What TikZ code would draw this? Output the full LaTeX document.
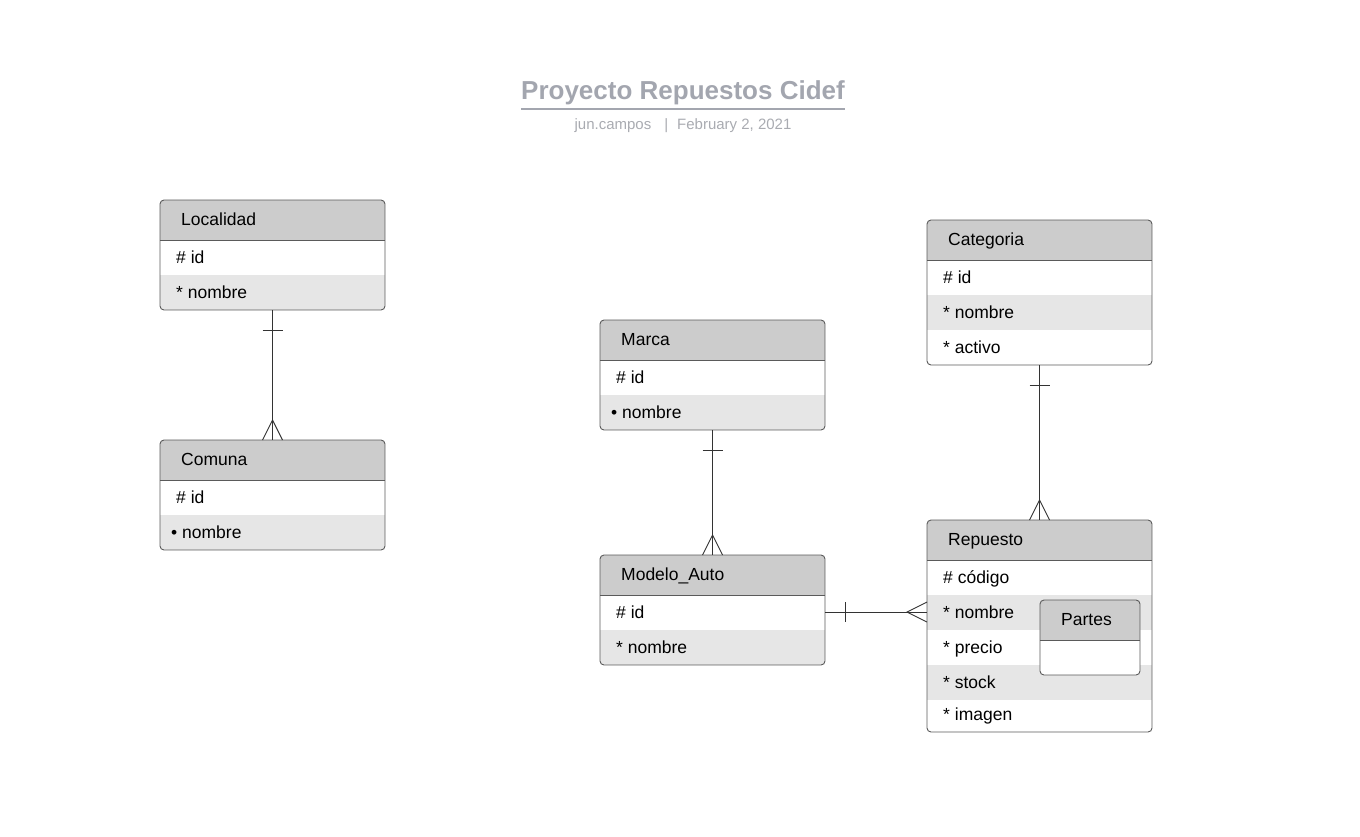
\documentclass[tikz,border=0pt]{standalone}
\usepackage{fontspec}
\setmainfont{Liberation Sans}
\usetikzlibrary{calc}

\definecolor{headgray}{HTML}{CCCCCC}
\definecolor{rowgray}{HTML}{E6E6E6}
\definecolor{framegray}{HTML}{5A5A5A}
\definecolor{linegray}{HTML}{333333}
\definecolor{titlegray}{HTML}{A3A6AF}
\definecolor{subgray}{HTML}{A9ABB1}

% height of the last row
\newcommand{\erlast}{35}
% entity box: [width]{name}{left x}{top y}{title}{rows}
\newcommand{\erentity}[6][225]{%
  \foreach \t [count=\i] in {#6} {\xdef\errows{\i}}
  \pgfmathsetmacro{\erh}{40+35*(\errows-1)+\erlast}
  \begin{scope}
    \clip[rounded corners=4pt] (#3,#4) rectangle ++(#1,\erh);
    \fill[white] (#3,#4) rectangle ++(#1,\erh);
    \fill[headgray] (#3,#4) rectangle ++(#1,40);
    \foreach \t [count=\i] in {#6} {
      \ifodd\i\else \fill[rowgray] (#3,{#4+5+35*\i}) rectangle ++(#1,35); \fi
    }
  \end{scope}
  \draw[framegray, line width=0.9pt] (#3,#4+40) -- ++(#1,0);
  \node[erframe, minimum width=#1, minimum height=\erh] (#2) at ({#3+#1/2},{#4+\erh/2}) {};
  \node[ertext, anchor=base west] (#2-title) at (#3+21,#4+25) {#5};
  \foreach \t [count=\i] in {#6} {
    \pgfmathsetmacro{\errowh}{\i==\errows ? \erlast : 35}
    \node[ertext, anchor=base west] (#2-\i) at (#3+16,{#4+35*\i+\errowh-7}) {\t};
  }
}

\begin{document}
\begin{tikzpicture}[
    x=1pt, y=-1pt,
    % Styles
    erframe/.style={
        draw=framegray,
        line width=0.9pt,
        rounded corners=4pt,
        inner sep=0pt,
        outer sep=0pt
    },
    ertext/.style={
        font=\fontsize{17.5}{20}\selectfont,
        inner sep=0pt
    },
    erline/.style={
        draw=linegray,
        line width=0.9pt
    }
]
    \useasboundingbox (0,0) rectangle (1360,836);

    % Title
    \node[font=\bfseries\fontsize{26}{30}\selectfont, text=titlegray, inner sep=0pt, anchor=base] (title) at (683,99) {Proyecto Repuestos Cidef};
    \draw[titlegray, line width=2pt] ([yshift=-10pt]title.base west) -- ([yshift=-10pt]title.base east);
    \node[font=\fontsize{15}{18}\selectfont, text=subgray, inner sep=0pt, anchor=base] (subtitle) at (683,129) {jun.campos\hspace{13pt}|\hspace{9pt}February 2, 2021};

    % Entities
    \erentity{loc}{160}{200}{Localidad}{\# id, * nombre}
    \erentity{com}{160}{440}{Comuna}{\# id, \kern-5pt• nombre}
    \erentity{mar}{600}{320}{Marca}{\# id, \kern-5pt• nombre}
    \erentity{mod}{600}{555}{Modelo\_Auto}{\# id, * nombre}
    \erentity{cat}{927}{220}{Categoria}{\# id, * nombre, * activo}
    {\renewcommand{\erlast}{32}%
    \erentity{rep}{927}{520}{Repuesto}{\# código, * nombre, * precio, * stock, * imagen}}
    \erentity[100]{par}{1040}{600}{Partes}{\mbox{}}

    % Relations
    \draw[erline] (loc.south) -- (com.north);
    \draw[erline] ($(loc.south)+(-10,20)$) -- ++(20,0);
    \draw[erline] ($(com.north)+(-10,0)$) -- ($(com.north)+(0,-20)$) -- ($(com.north)+(10,0)$);

    \draw[erline] (mar.south) -- (mod.north);
    \draw[erline] ($(mar.south)+(-10,20)$) -- ++(20,0);
    \draw[erline] ($(mod.north)+(-10,0)$) -- ($(mod.north)+(0,-20)$) -- ($(mod.north)+(10,0)$);

    \draw[erline] (cat.south) -- (rep.north);
    \draw[erline] ($(cat.south)+(-10,20)$) -- ++(20,0);
    \draw[erline] ($(rep.north)+(-10,0)$) -- ($(rep.north)+(0,-20)$) -- ($(rep.north)+(10,0)$);

    \coordinate (modlink) at ([yshift=-2pt]mod.east);
    \coordinate (replink) at (modlink -| rep.west);
    \draw[erline] (modlink) -- (replink);
    \draw[erline] ($(modlink)+(20,-10)$) -- ++(0,20);
    \draw[erline] ($(replink)+(0,-10)$) -- ($(replink)+(-20,0)$) -- ($(replink)+(0,10)$);
\end{tikzpicture}
\end{document}
